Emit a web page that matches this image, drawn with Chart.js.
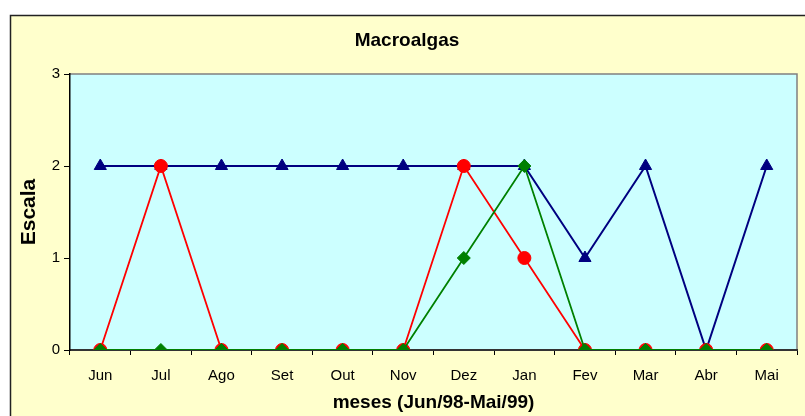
<!DOCTYPE html>
<html>
<head>
<meta charset="utf-8">
<script src="https://cdn.jsdelivr.net/npm/chart.js@4/dist/chart.umd.min.js"></script>
<style>
  html, body { margin: 0; padding: 0; background: #ffffff; }
  #wrap { width: 805px; height: 416px; }
</style>
</head>
<body>
<div id="wrap"><canvas id="c" width="805" height="416"></canvas></div>
<script>
// Monthly macroalgae scale, Jun/98 to Mai/99
const months = ['Jun', 'Jul', 'Ago', 'Set', 'Out', 'Nov', 'Dez', 'Jan', 'Fev', 'Mar', 'Abr', 'Mai'];
const serieAzul = [2, 2, 2, 2, 2, 2, 2, 2, 1, 2, 0, 2];
const serieVermelha = [0, 2, 0, 0, 0, 0, 2, 1, 0, 0, 0, 0];
const serieVerde = [0, 0, 0, 0, 0, 0, 1, 2, 0, 0, 0, 0];
const yTicks = [0, 1, 2, 3];

const FONT = 'Liberation Sans, Arial, sans-serif';

// Paints the pale yellow chart frame and the cyan plot area
const framePlugin = {
  id: 'frame',
  beforeDraw(chart) {
    const ctx = chart.ctx;
    const a = chart.chartArea;
    ctx.save();
    ctx.fillStyle = '#ffffff';
    ctx.fillRect(0, 0, chart.width, chart.height);
    ctx.fillStyle = '#FFFFCC';
    ctx.fillRect(10, 15, chart.width - 10 + 5, chart.height);
    ctx.strokeStyle = '#222222';
    ctx.lineWidth = 1.5;
    ctx.beginPath();
    ctx.moveTo(10.5, chart.height + 5);
    ctx.lineTo(10.5, 15.5);
    ctx.lineTo(chart.width + 5, 15.5);
    ctx.stroke();
    ctx.fillStyle = '#CCFFFF';
    ctx.fillRect(a.left, a.top, a.right - a.left, a.bottom - a.top);
    ctx.strokeStyle = '#808080';
    ctx.lineWidth = 1.5;
    ctx.beginPath();
    ctx.moveTo(a.left, a.top);
    ctx.lineTo(a.right, a.top);
    ctx.lineTo(a.right, a.bottom);
    ctx.stroke();
    ctx.restore();
  }
};

new Chart(document.getElementById('c'), {
  type: 'line',
  data: {
    labels: months,
    datasets: [
      {
        data: serieAzul,
        borderColor: '#000080',
        backgroundColor: '#000080',
        borderWidth: 2,
        pointStyle: 'triangle',
        pointRadius: 7,
        pointBorderWidth: 1,
        order: 3,
        tension: 0
      },
      {
        data: serieVermelha,
        borderColor: '#FF0000',
        backgroundColor: '#FF0000',
        borderWidth: 1.8,
        pointStyle: 'circle',
        pointRadius: 6.5,
        pointBorderWidth: 1,
        order: 2,
        tension: 0
      },
      {
        data: serieVerde,
        borderColor: '#008000',
        backgroundColor: '#008000',
        borderWidth: 1.8,
        pointStyle: 'rectRot',
        pointRadius: 6.5,
        pointBorderWidth: 1,
        order: 1,
        tension: 0
      }
    ]
  },
  options: {
    responsive: false,
    animation: false,
    layout: { padding: { left: 10, right: 1, top: 15, bottom: 0 } },
    plugins: {
      legend: { display: false },
      tooltip: { enabled: false },
      title: {
        display: true,
        text: 'Macroalgas',
        color: '#000000',
        font: { family: FONT, size: 19, weight: 'bold' },
        padding: { top: 14, bottom: 22.2 }
      }
    },
    scales: {
      x: {
        offset: true,
        grid: {
          offset: true,
          drawOnChartArea: false,
          drawTicks: true,
          tickLength: 5,
          color: '#000000'
        },
        border: { color: '#333333', width: 2 },
        ticks: {
          color: '#000000',
          font: { family: FONT, size: 15 },
          padding: 12,
          maxRotation: 0,
          autoSkip: false
        },
        title: {
          display: true,
          text: 'meses (Jun/98-Mai/99)',
          color: '#000000',
          font: { family: FONT, size: 19, weight: 'bold' },
          padding: { top: 0, bottom: 2 }
        },
        afterFit(scale) { scale.height = 66; }
      },
      y: {
        min: 0,
        max: 3,
        afterBuildTicks(scale) { scale.ticks = yTicks.map(v => ({ value: v })); },
        grid: {
          drawOnChartArea: false,
          drawTicks: true,
          tickLength: 6,
          color: '#000000'
        },
        border: { color: '#000000', width: 1.5 },
        ticks: {
          color: '#000000',
          font: { family: FONT, size: 15 },
          padding: 4
        },
        title: {
          display: true,
          text: 'Escala',
          color: '#000000',
          font: { family: FONT, size: 21, weight: 'bold' },
          padding: { top: 7, bottom: 0 }
        },
        afterFit(scale) { scale.width = 60; }
      }
    }
  },
  plugins: [framePlugin]
});
</script>
</body>
</html>
